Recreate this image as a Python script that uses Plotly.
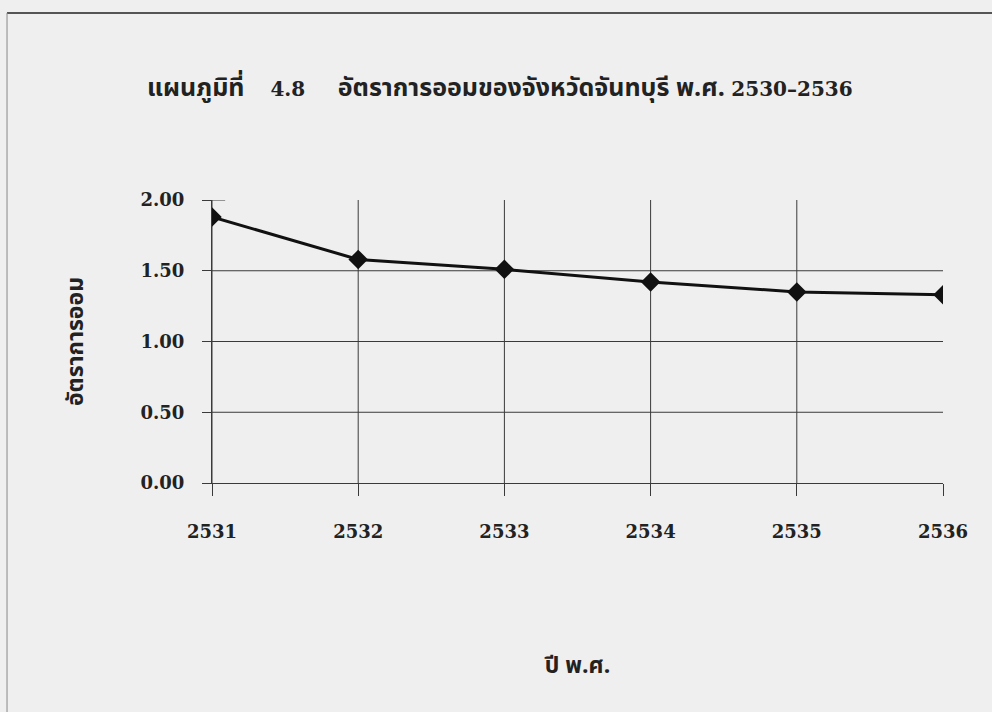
import plotly.graph_objects as go

# Savings rate of Chanthaburi province, B.E. 2531-2536
years = [2531, 2532, 2533, 2534, 2535, 2536]
saving_rate = [1.88, 1.58, 1.51, 1.42, 1.35, 1.33]
y_ticks = [0.0, 0.5, 1.0, 1.5, 2.0]
y_tick_text = ["0.00", "0.50", "1.00", "1.50", "2.00"]

num_font = "DejaVu Serif, serif"
thai_font = "Noto Sans Thai, Loma, Garuda, Tlwg Typo, DejaVu Sans, sans-serif"


def serif(txt, size=20):
    return (f'<span style="font-family:{num_font};font-size:{size}px;'
            f'font-weight:bold">{txt}</span>')


title_text = ("<b>แผนภูมิที่    " + serif("4.8") + "     อัตราการออมของจังหวัดจันทบุรี พ.ศ. "
              + serif("2530–2536") + "</b>")
x_title = "<b>ปี พ.ศ.</b>"
y_title = "<b>อัตราการออม</b>"

grid_color = "#3a3a3a"
bg_color = "#efefef"

fig = go.Figure()
fig.add_trace(go.Scatter(
    x=years, y=saving_rate, mode="lines+markers",
    line=dict(color="#111111", width=3),
    marker=dict(symbol="diamond", size=15, color="#111111"),
    showlegend=False, hoverinfo="x+y",
))

shapes = []
# vertical grid lines at every year except the last, running through the axis
for yr in years[:-1]:
    shapes.append(dict(type="line", xref="x", yref="y", x0=yr, x1=yr,
                       y0=y_ticks[0], y1=y_ticks[-1],
                       line=dict(color=grid_color, width=1), layer="below"))
# horizontal grid lines between the bottom and top ticks
for v in y_ticks[1:-1]:
    shapes.append(dict(type="line", xref="x", yref="y", x0=years[0], x1=years[-1],
                       y0=v, y1=v, line=dict(color=grid_color, width=1), layer="below"))
# short crossing tick at the top of the value axis
shapes.append(dict(type="line", xref="x", yref="y", x0=years[0], x1=years[0] + 0.09,
                   y0=y_ticks[-1], y1=y_ticks[-1], line=dict(color=grid_color, width=1)))
# frame of the chart page
shapes.append(dict(type="line", xref="paper", yref="paper", x0=-0.2804, x1=1.07,
                   y0=1.661, y1=1.661, line=dict(color="#555555", width=2)))
shapes.append(dict(type="line", xref="paper", yref="paper", x0=-0.2804, x1=-0.2804,
                   y0=1.661, y1=-0.82, line=dict(color="#888888", width=1)))

fig.update_layout(
    width=992, height=712,
    margin=dict(l=212, r=49, t=200, b=229),
    paper_bgcolor=bg_color, plot_bgcolor=bg_color,
    shapes=shapes,
    xaxis=dict(
        range=[years[0], years[-1]], tickvals=years,
        ticktext=[str(y) for y in years],
        showgrid=False, zeroline=False,
        showline=True, linecolor=grid_color, linewidth=1,
        ticks="outside", ticklen=12, tickcolor=grid_color, tickwidth=1,
        ticklabelstandoff=20,
        tickfont=dict(family=num_font, size=18, color="#222222", weight="bold"),
        title=dict(text=x_title, font=dict(family=thai_font, size=23, color="#222222"),
                   standoff=116),
        fixedrange=True,
    ),
    yaxis=dict(
        range=[y_ticks[0], y_ticks[-1]], tickvals=y_ticks, ticktext=y_tick_text,
        showgrid=False, zeroline=False,
        showline=True, linecolor=grid_color, linewidth=1,
        ticks="outside", ticklen=9, tickcolor=grid_color, tickwidth=1,
        ticklabelstandoff=14,
        tickfont=dict(family=num_font, size=18, color="#222222", weight="bold"),
        title=dict(text=y_title, font=dict(family=thai_font, size=23, color="#222222"),
                   standoff=50),
        fixedrange=True,
    ),
    annotations=[dict(
        text=title_text, xref="paper", yref="paper", x=-0.092, y=1.395,
        xanchor="left", yanchor="middle", showarrow=False,
        font=dict(family=thai_font, size=25, color="#222222"),
    )],
)

fig.write_html("out.html")
